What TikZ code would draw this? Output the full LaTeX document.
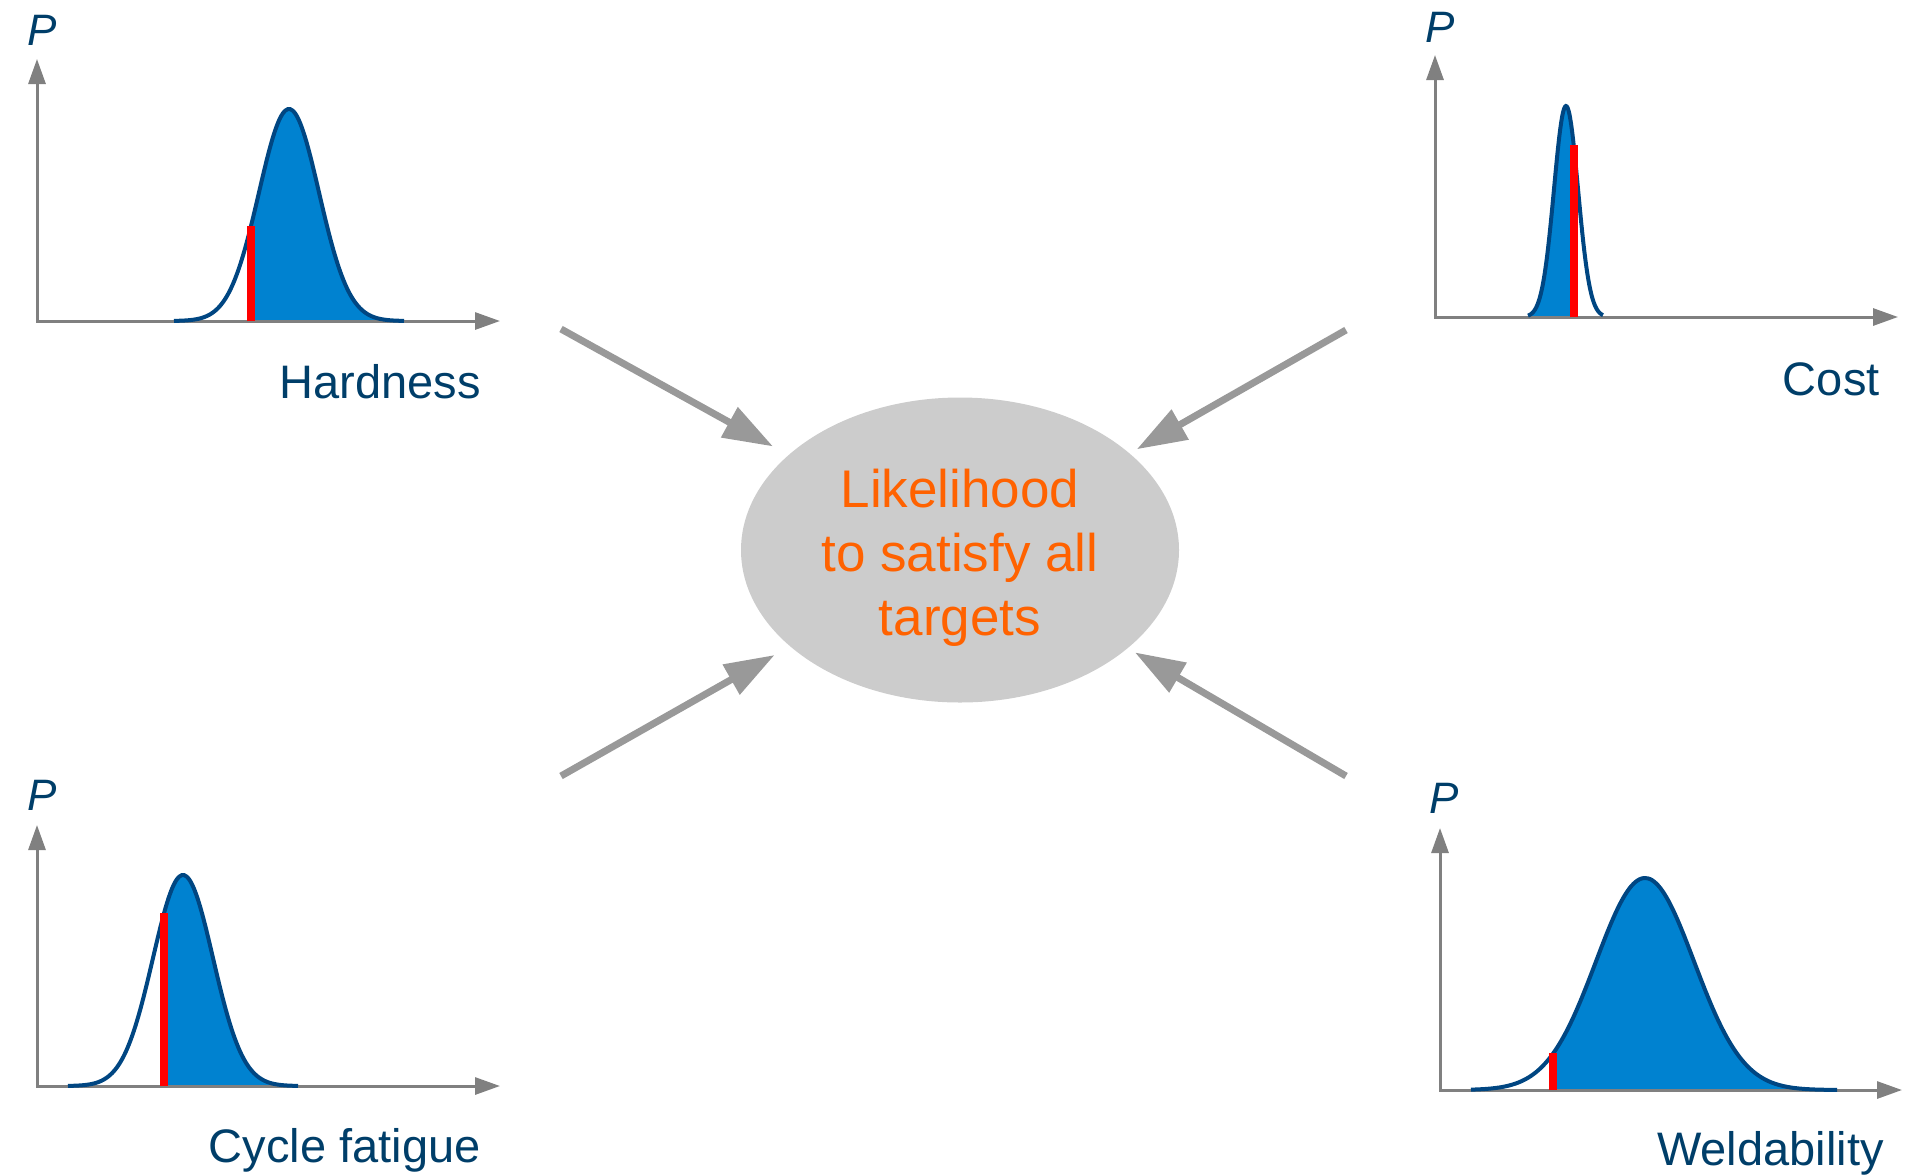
\documentclass[tikz,border=0pt]{standalone}
\usepackage{fontspec}
\setmainfont{Liberation Sans}
\usetikzlibrary{arrows.meta,shapes.geometric}
\definecolor{navy}{RGB}{0,62,105}
\definecolor{curveblue}{RGB}{0,70,130}
\definecolor{areablue}{RGB}{0,130,208}
\definecolor{axisgray}{RGB}{128,128,128}
\definecolor{arrowgray}{RGB}{153,153,153}
\definecolor{bubblegray}{RGB}{204,204,204}
\definecolor{likeorange}{RGB}{255,98,0}
\begin{document}
\begin{tikzpicture}[x=0.5pt, y=-0.5pt,
    axis/.style={draw=axisgray, line width=1.5pt, {Triangle[length=12.5pt,width=8.5pt]}-{Triangle[length=12.5pt,width=8.5pt]}},
    curve/.style={draw=curveblue, line width=2pt, samples=90, smooth},
    tail/.style={fill=areablue, samples=90, smooth},
    cut/.style={draw=red, line width=4pt},
    lbl/.style={anchor=base east, text=navy, inner sep=0pt, font=\fontsize{23.5}{28}\selectfont},
    plab/.style={anchor=base, text=navy, inner sep=0pt, font=\fontsize{22}{26}\selectfont\itshape},
    goal/.style={ellipse, fill=bubblegray, minimum width=219pt, minimum height=152.5pt, inner sep=0pt,
      align=center, text=likeorange, font=\fontsize{26.5}{32}\selectfont},
    feed/.style={draw=arrowgray, line width=3.5pt, -{Triangle[length=25pt,width=16.5pt]}, shorten >=8.7pt}
  ]
  \useasboundingbox (0,0) rectangle (1905,1174);

  % centre
  \node[goal] (goal) at (960,550) {\rule{0pt}{26.5pt}Likelihood\\to satisfy all\\targets};

  % Hardness
  \fill[tail] (251,321) -- plot[domain=251:404] (\x,{321-212*exp(-0.5*((\x-289)/30)^2)}) -- (404,321) -- cycle;
  \draw[axis] (37,59) -- (37,321) -- (500,321);
  \draw[curve] plot[domain=174:404] (\x,{321-212*exp(-0.5*((\x-289)/30)^2)});
  \draw[cut] (251,321) -- (251,226);
  \node[plab] (hardP) at (42,45) {P};
  \node[lbl] (hardlab) at (481,398) {Hardness};

  % Cost
  \fill[tail] (1528,317) -- plot[domain=1528:1574] (\x,{317-211*exp(-0.5*((\x-1566)/12)^2)}) -- (1574,317) -- cycle;
  \draw[axis] (1435,55) -- (1435,317) -- (1898,317);
  \draw[curve] plot[domain=1528:1603] (\x,{317-211*exp(-0.5*((\x-1566)/12)^2)});
  \draw[cut] (1574,317) -- (1574,145);
  \node[plab] (costP) at (1440,42) {P};
  \node[lbl] (costlab) at (1880,395) {Cost};

  % Cycle fatigue
  \fill[tail] (164,1086) -- plot[domain=164:298] (\x,{1086-211*exp(-0.5*((\x-183)/30)^2)}) -- (298,1086) -- cycle;
  \draw[axis] (37,825) -- (37,1086) -- (500,1086);
  \draw[curve] plot[domain=68:298] (\x,{1086-211*exp(-0.5*((\x-183)/30)^2)});
  \draw[cut] (164,1086) -- (164,913);
  \node[plab] (fatP) at (42,810) {P};
  \node[lbl] (fatlab) at (481,1162) {Cycle fatigue};

  % Weldability
  \fill[tail] (1553,1090) -- plot[domain=1553:1837] (\x,{1090-212*exp(-0.5*((\x-1645)/49)^2)}) -- (1837,1090) -- cycle;
  \draw[axis] (1440,828) -- (1440,1090) -- (1902,1090);
  \draw[curve] plot[domain=1471:1837] (\x,{1090-212*exp(-0.5*((\x-1645)/49)^2)});
  \draw[cut] (1553,1090) -- (1553,1053);
  \node[plab] (weldP) at (1444,813) {P};
  \node[lbl] (weldlab) at (1884,1165) {Weldability};

  % arrows into the centre
  \coordinate (hardfeed) at (561,329);
  \coordinate (costfeed) at (1346,330);
  \coordinate (fatfeed) at (561,776);
  \coordinate (weldfeed) at (1346,776);
  \draw[feed] (hardfeed) -- (goal);
  \draw[feed, shorten >=4pt] (costfeed) -- (goal);
  \draw[feed] (fatfeed) -- (goal);
  \draw[feed, shorten >=4pt] (weldfeed) -- (goal);
\end{tikzpicture}
\end{document}
